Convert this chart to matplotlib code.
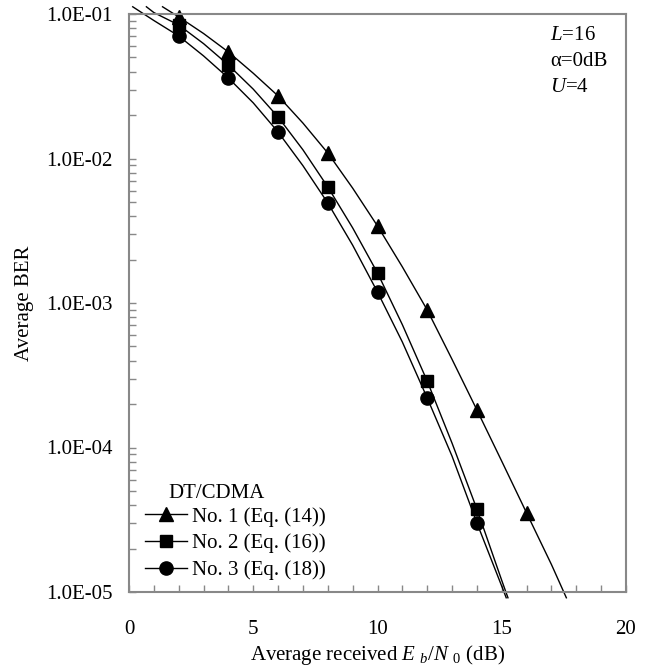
import numpy as np
import matplotlib
matplotlib.use("Agg")
import matplotlib.pyplot as plt
from matplotlib.ticker import FixedLocator, NullFormatter, LogLocator

plt.rcParams['font.family'] = ['Liberation Serif', 'DejaVu Serif']
plt.rcParams['mathtext.fontset'] = 'custom'
plt.rcParams['mathtext.rm'] = 'Liberation Serif'
plt.rcParams['mathtext.it'] = 'Liberation Serif:italic'

# marker data (Eb/N0 in dB, average BER)
x_marks = [2, 4, 6, 8, 10, 12, 14, 16]
ber_no1 = [0.095, 0.0546, 0.0271, 0.0109, 0.00341, 0.000895, 0.000182, 3.52e-5]
x_marks2 = [2, 4, 6, 8, 10, 12, 14]
ber_no2 = [0.084, 0.0444, 0.0194, 0.00636, 0.00161, 0.000288, 3.75e-5]
ber_no3 = [0.0705, 0.0361, 0.0152, 0.00492, 0.00119, 0.00022, 3.0e-5]

# theory curves, log10(BER)
x_curve1 = [1.35, 2, 3, 4, 5, 6, 7, 8, 9, 10, 11, 12, 13, 14, 15, 16, 17, 17.6]
log_curve1 = [-0.95, -1.02, -1.135, -1.263, -1.41, -1.567, -1.755, -1.962,
              -2.205, -2.467, -2.75, -3.048, -3.39, -3.740, -4.095, -4.453, -4.81, -5.04]
x_curve2 = [0.7, 1, 2, 3, 4, 5, 6, 7, 8, 9, 10, 11, 12, 13, 14, 15, 15.25]
log_curve2 = [-0.95, -0.99, -1.076, -1.205, -1.353, -1.52, -1.713, -1.94, -2.197,
              -2.48, -2.792, -3.15, -3.54, -3.97, -4.426, -4.92, -5.04]
x_curve3 = [0.15, 1, 2, 3, 4, 5, 6, 7, 8, 9, 10, 11, 12, 13, 14, 15, 15.18]
log_curve3 = [-0.95, -1.045, -1.152, -1.29, -1.443, -1.615, -1.817, -2.05, -2.308,
              -2.6, -2.924, -3.27, -3.657, -4.06, -4.522, -4.96, -5.04]

labels = ['No. 1 (Eq. (14))', 'No. 2 (Eq. (16))', 'No. 3 (Eq. (18))']

W, H = 656, 671
fig = plt.figure(figsize=(W / 100, H / 100), dpi=100)
ax = fig.add_axes([129 / W, 1 - 592 / H, (626 - 129) / W, (592 - 14) / H])

ax.plot(x_curve1, 10 ** np.array(log_curve1), color='black', lw=1.0, clip_on=False)
ax.plot(x_curve2, 10 ** np.array(log_curve2), color='black', lw=1.0, clip_on=False)
ax.plot(x_curve3, 10 ** np.array(log_curve3), color='black', lw=1.0, clip_on=False)

ax.plot(x_marks, ber_no1, '^', color='black', ms=10, clip_on=False)
ax.plot(x_marks2, ber_no2, 's', color='black', ms=8.5, clip_on=False)
ax.plot(x_marks2, ber_no3, 'o', color='black', ms=9.5, clip_on=False)

fs = 15

# legend handles
h1, = ax.plot([], [], '-^', color='black', lw=1.0, ms=10)
h2, = ax.plot([], [], '-s', color='black', lw=1.0, ms=8.5)
h3, = ax.plot([], [], '-o', color='black', lw=1.0, ms=9.5)
ax.legend([h1, h2, h3], labels, loc='upper left',
          bbox_to_anchor=(145 / W, 1 - 507 / H), bbox_transform=fig.transFigure,
          frameon=False, fontsize=fs, handlelength=2.0, handletextpad=0.25,
          labelspacing=0.33, borderaxespad=0, borderpad=0)
fig.text(168 / W, 1 - 493 / H, 'DT/CDMA', fontsize=fs, va='center', ha='left')

ax.set_yscale('log')
ax.set_xlim(0, 20)
ax.set_ylim(1e-5, 1e-1)

ax.xaxis.set_major_locator(FixedLocator([0, 5, 10, 15, 20]))
ax.xaxis.set_minor_locator(FixedLocator(np.arange(0, 21, 1)))
ax.yaxis.set_major_locator(LogLocator(base=10, numticks=10))
ax.yaxis.set_minor_locator(LogLocator(base=10, subs=np.arange(2, 10), numticks=20))
ax.yaxis.set_minor_formatter(NullFormatter())
ax.set_yticks([1e-5, 1e-4, 1e-3, 1e-2, 1e-1])
ax.set_yticklabels(['1.0E-05', '1.0E-04', '1.0E-03', '1.0E-02', '1.0E-01'])

ax.tick_params(axis='both', which='both', direction='in', color='#888888',
               labelsize=fs, width=1.0)
ax.tick_params(axis='x', which='both', length=5, pad=20)
ax.tick_params(axis='y', which='both', length=5, pad=12)

for s in ax.spines.values():
    s.set_color('#888888')
    s.set_linewidth(1.5)

ax.set_xlabel(r'Average received $E$ $_{b}$/$N$ $_{0}$ (dB)', fontsize=fs)
ax.xaxis.set_label_coords(0.5, (592 - 655) / 578, transform=ax.transAxes)
ax.xaxis.label.set_va('center')
ax.set_ylabel('Average BER', fontsize=fs)
ax.yaxis.set_label_coords((25 - 129) / 497, 0.5, transform=ax.transAxes)
ax.yaxis.label.set_va('center')

for txt, yp in [(r'$L$=16', 35), ('α=0dB', 62), (r'$U$=4', 88)]:
    fig.text(550 / W, 1 - yp / H, txt, fontsize=fs, va='center', ha='left')

fig.savefig('out.png', dpi=100)
